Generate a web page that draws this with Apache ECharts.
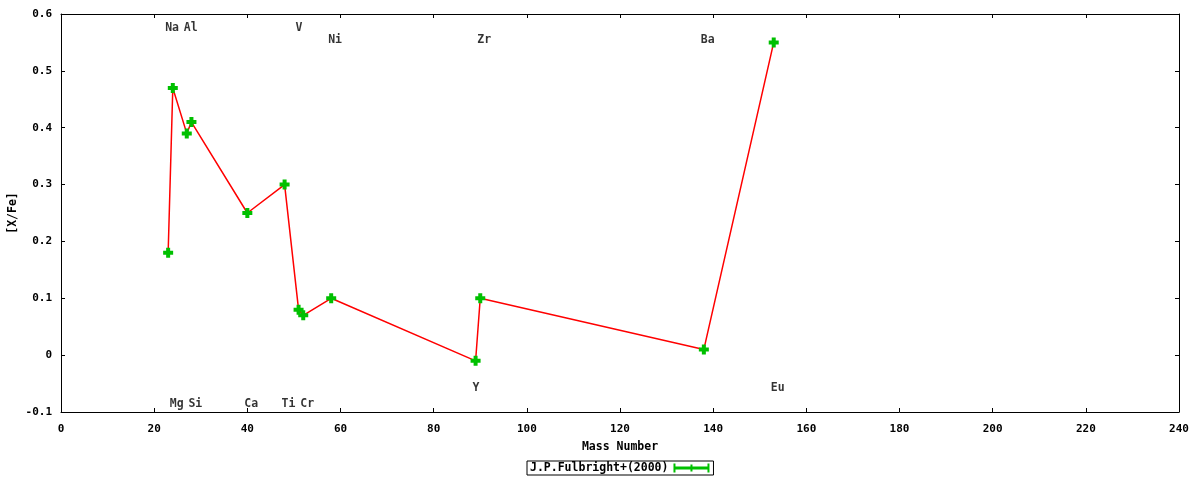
<!DOCTYPE html>
<html>
<head>
<meta charset="utf-8">
<script src="https://cdn.jsdelivr.net/npm/echarts@6/dist/echarts.min.js"></script>
<style>
  html,body{margin:0;padding:0;background:#fff;}
  #main{width:1200px;height:480px;}
</style>
</head>
<body>
<div id="main"></div>
<script>
// mass numbers and [X/Fe] values (Fulbright 2000)
var massNum = [23, 24, 27, 28, 40, 48, 51, 52, 58, 89, 90, 138, 153];
var xFe = [0.18, 0.47, 0.39, 0.41, 0.25, 0.30, 0.08, 0.07, 0.10, -0.01, 0.10, 0.01, 0.55];

// element labels: name, mass, height on [X/Fe] scale
var elemName = ['Na', 'Al', 'V', 'Ni', 'Zr', 'Ba', 'Mg', 'Si', 'Ca', 'Ti', 'Cr', 'Y', 'Eu'];
var elemMass = [23, 27, 51, 58, 90, 138, 24, 28, 40, 48, 52, 89, 153];
var elemLevel = [0.58, 0.58, 0.58, 0.56, 0.56, 0.56, -0.08, -0.08, -0.08, -0.08, -0.08, -0.052, -0.052];

var xTicks = [0, 240, 20];
var yTicks = [-0.1, 0.6, 0.1];

var font = 'DejaVu Sans Mono';
var lineDat = [], labDat = [];
for (var i = 0; i < massNum.length; i++) lineDat.push([massNum[i], xFe[i]]);
for (var j = 0; j < elemName.length; j++) labDat.push({name: elemName[j], value: [elemMass[j], elemLevel[j]]});

var plus = 'path://M3,0 H7 V3 H10 V7 H7 V10 H3 V7 H0 V3 H3 Z';
var axLine = {show: true, onZero: false, lineStyle: {color: '#000', width: 1}};
var tick = {show: true, inside: true, length: 4, lineStyle: {color: '#000'}};
var lab = {color: '#000', fontFamily: font, fontWeight: 'bold', fontSize: 11};

var myChart = echarts.init(document.getElementById('main'));
var option = {
  animation: false,
  backgroundColor: '#fff',
  grid: {left: 61, right: 21, top: 14, bottom: 68, containLabel: false, outerBoundsMode: 'none'},
  legend: {
    left: 527, top: 461,
    align: 'right',
    padding: [1, 4, 1, 3],
    itemWidth: 36, itemHeight: 9,
    borderColor: '#000', borderWidth: 1, borderRadius: 0,
    textStyle: {color: '#000', fontFamily: font, fontWeight: 'bold', fontSize: 11.5},
    data: [{name: 'J.P.Fulbright+(2000)',
      icon: 'path://M0,0 H2 V3 H17 V1 H19 V3 H34 V0 H36 V9 H34 V6 H19 V8 H17 V6 H2 V9 H0 Z'}]
  },
  xAxis: [{
    type: 'value', min: xTicks[0], max: xTicks[1], interval: xTicks[2],
    name: 'Mass Number', nameLocation: 'middle', nameGap: 35, nameMoveOverlap: false,
    nameTextStyle: {color: '#000', fontFamily: font, fontWeight: 'bold', fontSize: 11.5, verticalAlign: 'middle'},
    axisLine: axLine, axisTick: tick, splitLine: {show: false},
    axisLabel: Object.assign({margin: 12}, lab)
  }, {
    type: 'value', position: 'top', min: xTicks[0], max: xTicks[1], interval: xTicks[2],
    axisLine: axLine, axisTick: tick, splitLine: {show: false}, axisLabel: {show: false}
  }],
  yAxis: [{
    type: 'value', min: yTicks[0], max: yTicks[1], interval: yTicks[2],
    name: '[X/Fe]', nameLocation: 'middle', nameGap: 48, nameRotate: 90, nameMoveOverlap: false,
    nameTextStyle: {color: '#000', fontFamily: font, fontWeight: 'bold', fontSize: 11.5, verticalAlign: 'middle'},
    axisLine: axLine, axisTick: tick, splitLine: {show: false},
    axisLabel: Object.assign({margin: 9}, lab)
  }, {
    type: 'value', position: 'right', min: yTicks[0], max: yTicks[1], interval: yTicks[2],
    axisLine: axLine, axisTick: tick, splitLine: {show: false}, axisLabel: {show: false}
  }],
  series: [{
    name: 'J.P.Fulbright+(2000)',
    type: 'line',
    data: lineDat,
    symbol: plus, symbolSize: 10, showAllSymbol: true,
    itemStyle: {color: '#00c000'},
    lineStyle: {color: '#ff0000', width: 1.5},
    emphasis: {disabled: true}
  }, {
    name: 'labels',
    type: 'scatter',
    data: labDat,
    symbolSize: 0,
    silent: true,
    label: {
      show: true, position: 'right', distance: 0, offset: [-3, 3],
      formatter: '{b}', color: '#000', fontFamily: font, fontWeight: 'bold', fontSize: 11.5
    }
  }]
};
myChart.setOption(option);
</script>
</body>
</html>
